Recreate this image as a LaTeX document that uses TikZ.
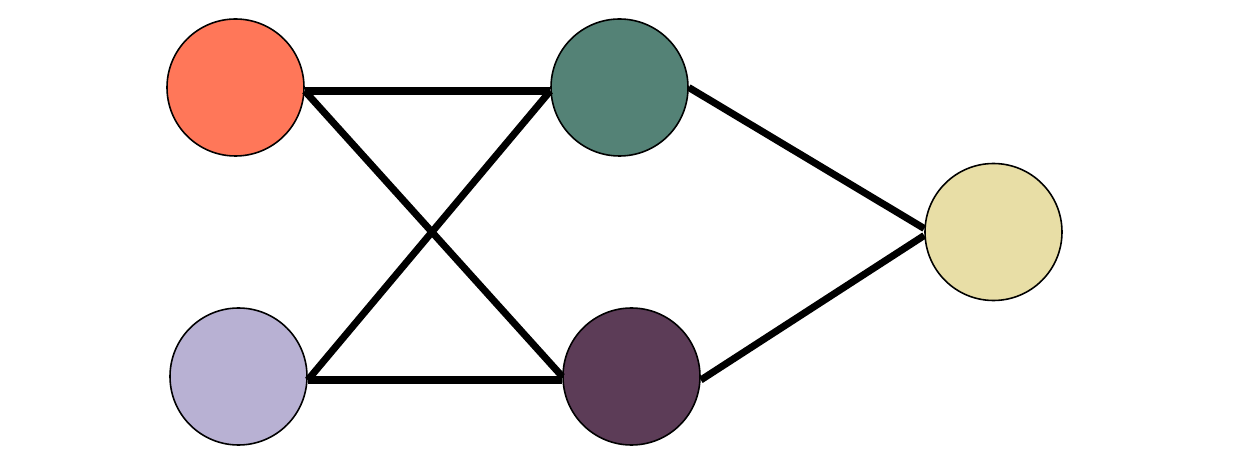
\documentclass[tikz,border=0pt]{standalone}
\definecolor{ngCoral}{HTML}{FF7759}
\definecolor{ngLilac}{HTML}{B8B1D3}
\definecolor{ngTeal}{HTML}{548276}
\definecolor{ngPlum}{HTML}{5C3C57}
\definecolor{ngSand}{HTML}{E8DEA6}
\usepackage{tikz}

\begin{document}
\begin{tikzpicture}[
    vertex/.style={circle, draw=black, line width=0.9pt, minimum size=2.74cm, inner sep=0pt},
    link/.style={line width=4pt, black}
  ]
  \useasboundingbox (0,0) rectangle (24.84,9.32);

  % -- Input column --
  \node[vertex, fill=ngCoral] (in1) at (4.71,7.57) {};
  \node[vertex, fill=ngLilac] (in2) at (4.77,1.79) {};

  % -- Middle column --
  \node[vertex, fill=ngTeal] (mid1) at (12.39,7.57) {};
  \node[vertex, fill=ngPlum] (mid2) at (12.63,1.79) {};

  % -- Output --
  \node[vertex, fill=ngSand] (out) at (19.87,4.68) {};

  % -- Links --
  \draw[link] ([yshift=-2pt]in1.east) -- ([yshift=-2pt]mid1.west);
  \draw[link] ([yshift=-2pt]in1.east) -- (mid2.west);
  \draw[link] ([yshift=-2pt]in2.east) -- ([yshift=-2pt]mid1.west);
  \draw[link] ([yshift=-2pt]in2.east) -- ([yshift=-2pt]mid2.west);
  \draw[link] (mid1.east) -- ([yshift=2pt]out.west);
  \draw[link] ([yshift=-2pt]mid2.east) -- ([yshift=-2pt]out.west);
\end{tikzpicture}
\end{document}
